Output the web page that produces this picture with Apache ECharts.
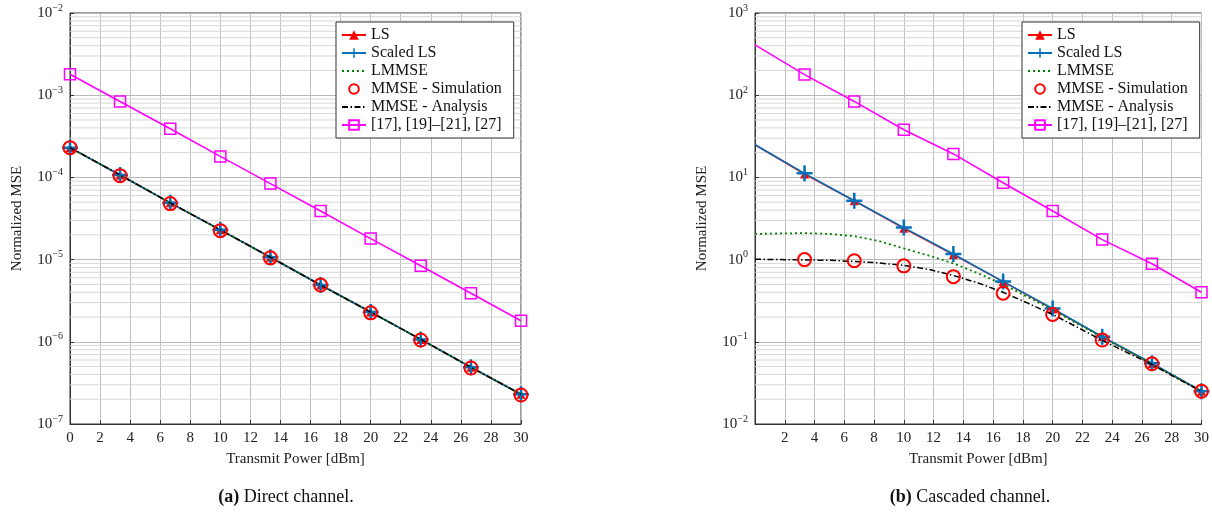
<!DOCTYPE html>
<html>
<head>
<meta charset="utf-8">
<title>Normalized MSE vs transmit power</title>
<script src="https://cdn.jsdelivr.net/npm/echarts@6/dist/echarts.min.js"></script>
<style>
  body { margin: 0; background: #fff; }
  #main { width: 1212px; height: 512px; }
</style>
</head>
<body>
<div id="main"></div>
<script>
// marker positions and denser positions for the smooth curves (dBm)
var xMark  = [0, 3.33, 6.67, 10, 13.33, 16.67, 20, 23.33, 26.67, 30];
var xDense = [0, 1.67, 3.33, 5, 6.67, 8.33, 10, 11.67, 13.33, 15, 16.67, 18.33, 20, 21.67, 23.33, 25, 26.67, 28.33, 30];

var legendNames = ['LS', 'Scaled LS', 'LMMSE', 'MMSE - Simulation', 'MMSE - Analysis', '[17], [19]\u2013[21], [27]'];

// (a) direct channel, all on xMark
var directLS       = [2.3e-4, 1.07e-4, 4.9e-5, 2.3e-5, 1.07e-5, 4.9e-6, 2.3e-6, 1.07e-6, 4.9e-7, 2.3e-7];
var directScaledLS = [2.3e-4, 1.07e-4, 4.9e-5, 2.3e-5, 1.07e-5, 4.9e-6, 2.3e-6, 1.07e-6, 4.9e-7, 2.3e-7];
var directLMMSE    = [2.3e-4, 1.07e-4, 4.9e-5, 2.3e-5, 1.07e-5, 4.9e-6, 2.3e-6, 1.07e-6, 4.9e-7, 2.3e-7];
var directMMSESim  = [2.3e-4, 1.05e-4, 4.8e-5, 2.25e-5, 1.05e-5, 4.9e-6, 2.25e-6, 1.05e-6, 4.8e-7, 2.25e-7];
var directMMSEAna  = [2.3e-4, 1.07e-4, 4.9e-5, 2.3e-5, 1.07e-5, 4.9e-6, 2.3e-6, 1.07e-6, 4.9e-7, 2.3e-7];
var directRef      = [1.8e-3, 8.4e-4, 3.9e-4, 1.8e-4, 8.4e-5, 3.9e-5, 1.8e-5, 8.4e-6, 3.9e-6, 1.8e-6];

// (b) cascaded channel
var cascLS       = [25, 11, 5.2, 2.4, 1.15, 0.54, 0.25, 0.115, 0.054, 0.025];          // xMark
var cascScaledLS = [25, 11.2, 5.2, 2.45, 1.17, 0.54, 0.255, 0.115, 0.055, 0.025];      // xMark
var cascLMMSE    = [2.05, 2.08, 2.1, 2.05, 1.93, 1.68, 1.37, 1.12, 0.9, 0.68, 0.5, 0.35,
                    0.245, 0.165, 0.113, 0.078, 0.054, 0.037, 0.025];                   // xDense
var cascMMSESim  = [1.0, 0.97, 0.84, 0.62, 0.39, 0.215, 0.105, 0.054, 0.025];          // xMark from 3.33
var cascMMSEAna  = [1.01, 1.0, 0.99, 0.98, 0.95, 0.91, 0.85, 0.76, 0.64, 0.52, 0.4, 0.295,
                    0.215, 0.15, 0.104, 0.074, 0.053, 0.036, 0.025];                    // xDense
var cascRef      = [410, 178, 84, 38, 19.3, 8.6, 3.9, 1.75, 0.89, 0.4];                // xMark

var RED = '#ff0000', BLUE = '#0072bd', GREEN = '#008000', MAG = '#ff00ff';
var serif = '"Liberation Serif", "Times New Roman", serif';
var plusPath = 'path://M0,6.75H16V9.25H0Z M6.75,0H9.25V16H6.75Z';

function pairs(xs, ys, noFirstSymbol) {
  return ys.map(function (y, i) {
    var d = { value: [xs[i], y] };
    if (noFirstSymbol && i === 0) d.symbol = 'none';
    return d;
  });
}

// minor log grid (2..9 per decade) drawn as one broken line
function minorGrid(lo, hi) {
  var out = [];
  for (var e = lo; e < hi; e++) {
    for (var m = 2; m <= 9; m++) {
      var v = Number((m * Math.pow(10, e)).toPrecision(3));
      out.push([0, v], [30, v], [30, '-']);
    }
  }
  return out;
}

function supLabel(v) {
  var e = Math.round(Math.log10(v));
  return '{b|10}{s|' + (e < 0 ? '\u2212' + (-e) : e) + '}';
}

function makeSeries(g, d) {
  return [
    { type: 'line', xAxisIndex: g, yAxisIndex: g, data: d.minor, silent: true, z: 1,
      symbol: 'none', connectNulls: false,
      lineStyle: { color: '#d6d6d6', width: 1 } },
    { name: 'LS', type: 'line', xAxisIndex: g, yAxisIndex: g, data: d.ls,
      symbol: 'triangle', symbolSize: 9, itemStyle: { color: RED },
      lineStyle: { color: RED, width: 1.6 }, z: 3 },
    { name: 'Scaled LS', type: 'line', xAxisIndex: g, yAxisIndex: g, data: d.scaled,
      symbol: plusPath, symbolSize: 16, itemStyle: { color: BLUE },
      lineStyle: { color: BLUE, width: 1.6 }, z: 3 },
    { name: 'LMMSE', type: 'line', xAxisIndex: g, yAxisIndex: g, data: d.lmmse,
      symbol: 'none', itemStyle: { color: GREEN, opacity: 0 },
      lineStyle: { color: GREEN, width: 1.8, type: [2, 3] }, z: 3 },
    { name: 'MMSE - Simulation', type: 'line', xAxisIndex: g, yAxisIndex: g, data: d.sim,
      symbol: 'circle', symbolSize: 13,
      itemStyle: { color: 'rgba(0,0,0,0)', borderColor: RED, borderWidth: 2 },
      lineStyle: { color: RED, width: 1, opacity: 0 }, z: 4 },
    { name: 'MMSE - Analysis', type: 'line', xAxisIndex: g, yAxisIndex: g, data: d.ana,
      symbol: 'none', itemStyle: { color: '#000', opacity: 0 },
      lineStyle: { color: '#000', width: 1.5, type: [6, 2.5, 1.5, 2.5] }, z: 4 },
    { name: legendNames[5], type: 'line', xAxisIndex: g, yAxisIndex: g, data: d.ref,
      symbol: 'rect', symbolSize: 11,
      itemStyle: { color: 'rgba(0,0,0,0)', borderColor: MAG, borderWidth: 1.5 },
      lineStyle: { color: MAG, width: 1.6 }, z: 3 }
  ];
}

function xAxisFor(g, hideZero) {
  return {
    type: 'value', gridIndex: g, min: 0, max: 30, interval: 2,
    name: 'Transmit Power [dBm]', nameLocation: 'middle', nameGap: 28,
    nameTextStyle: { fontFamily: serif, fontSize: 15, color: '#222' },
    axisLine: { onZero: false, lineStyle: { color: '#333', width: 1 } },
    axisTick: { inside: true, length: 4, lineStyle: { color: '#333' } },
    axisLabel: { fontFamily: serif, fontSize: 15, color: '#222', margin: 7,
      formatter: function (v) { return (hideZero && v === 0) ? '' : String(v); } },
    splitLine: { show: true, lineStyle: { color: '#c0c0c0', width: 1 } }
  };
}

function yAxisFor(g, lo, hi) {
  return {
    type: 'log', logBase: 10, gridIndex: g, min: Math.pow(10, lo), max: Math.pow(10, hi),
    name: 'Normalized MSE', nameLocation: 'middle', nameGap: 45,
    nameTextStyle: { fontFamily: serif, fontSize: 15, color: '#222' },
    axisLine: { show: true, lineStyle: { color: '#333', width: 1 } },
    axisTick: { inside: true, length: 4, lineStyle: { color: '#333' } },
    axisLabel: { margin: 7, formatter: supLabel,
      rich: {
        b: { fontFamily: serif, fontSize: 15, color: '#222' },
        s: { fontFamily: serif, fontSize: 10, color: '#222', padding: [0, 0, 10, 0] }
      } },
    splitLine: { show: true, lineStyle: { color: '#b8b8b8', width: 1 } }
  };
}

function legendAt(left) {
  return {
    data: legendNames, orient: 'vertical', left: left, top: 22, z: 10,
    itemWidth: 24, itemHeight: 12, itemGap: 2, padding: [5, 12, 5, 5],
    borderColor: '#333', borderWidth: 1, borderRadius: 0, backgroundColor: '#fff',
    textStyle: { fontFamily: serif, fontSize: 16, color: '#111' },
    selectedMode: false
  };
}

var seriesA = makeSeries(0, {
  minor: minorGrid(-7, -2),
  ls: pairs(xMark, directLS), scaled: pairs(xMark, directScaledLS),
  lmmse: pairs(xMark, directLMMSE), sim: pairs(xMark, directMMSESim),
  ana: pairs(xMark, directMMSEAna), ref: pairs(xMark, directRef)
});
var seriesB = makeSeries(1, {
  minor: minorGrid(-2, 3),
  ls: pairs(xMark, cascLS, true), scaled: pairs(xMark, cascScaledLS, true),
  lmmse: pairs(xDense, cascLMMSE), sim: pairs(xMark.slice(1), cascMMSESim),
  ana: pairs(xDense, cascMMSEAna), ref: pairs(xMark, cascRef, true)
});

var captionRich = { b: { fontWeight: 'bold', fontFamily: serif, fontSize: 18 } };

var chart = echarts.init(document.getElementById('main'));
chart.setOption({
  animation: false,
  backgroundColor: '#fff',
  grid: [
    { left: 70, top: 13, width: 451, height: 411, show: true, borderColor: '#333', borderWidth: 1 },
    { left: 755, top: 13, width: 451, height: 411, show: true, borderColor: '#333', borderWidth: 1 }
  ],
  xAxis: [xAxisFor(0, false), xAxisFor(1, true)],
  yAxis: [yAxisFor(0, -7, -2), yAxisFor(1, -2, 3)],
  legend: [legendAt(336), legendAt(1022)],
  series: seriesA.concat(seriesB),
  graphic: [
    { type: 'text', x: 286, y: 497,
      style: { text: '{b|(a)} Direct channel.', font: '18px ' + serif, fill: '#111',
        align: 'center', verticalAlign: 'middle', rich: captionRich } },
    { type: 'text', x: 970, y: 497,
      style: { text: '{b|(b)} Cascaded channel.', font: '18px ' + serif, fill: '#111',
        align: 'center', verticalAlign: 'middle', rich: captionRich } }
  ]
});
</script>
</body>
</html>
